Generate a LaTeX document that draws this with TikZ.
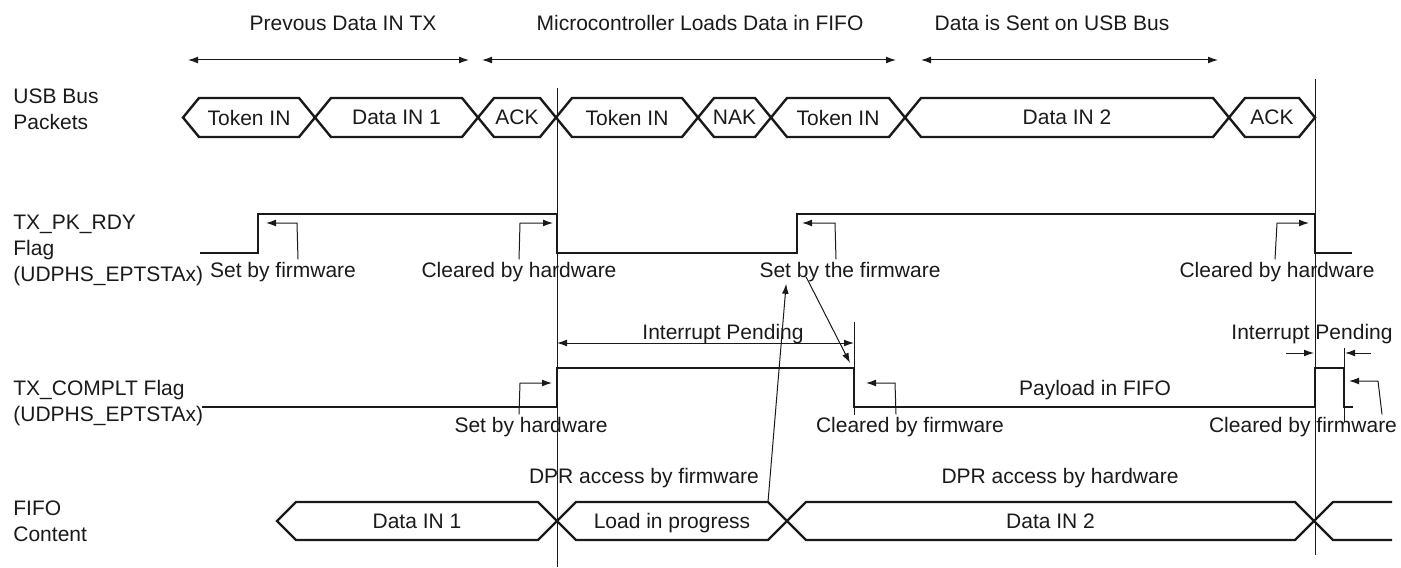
\documentclass[tikz,border=0pt]{standalone}
\usepackage{fontspec}
\setmainfont{Liberation Sans}
\usetikzlibrary{arrows.meta}
\definecolor{Ink}{HTML}{1A1A1A}
\tikzset{
  sig/.style={line width=1.3pt,draw=Ink,line join=miter},
  bus/.style={line width=1.2pt,draw=Ink,line join=miter},
  guide/.style={line width=0.5pt,draw=Ink},
  arr/.style={-{Latex[length=5pt,width=3.4pt]},line width=0.5pt,draw=Ink},
  dbl/.style={{Latex[length=5pt,width=3.4pt]}-{Latex[length=5pt,width=3.4pt]},line width=0.5pt,draw=Ink},
  txt/.style={font=\fontsize{10.5}{13}\selectfont,text=Ink,inner sep=1pt},
  rowlbl/.style={txt,align=left,anchor=north west,inner sep=0pt}
}
\begin{document}
\begin{tikzpicture}[x=0.5pt,y=-0.5pt]
  \useasboundingbox (0,0) rectangle (1401,567);
  \node[txt,anchor=base] (ph1) at (343,31) {Prevous Data IN TX};
  \node[txt,anchor=base] (ph2) at (700,31) {Microcontroller Loads Data in FIFO};
  \node[txt,anchor=base] (ph3) at (1052,31) {Data is Sent on USB Bus};
  \coordinate (a1) at (188,60); \coordinate (b1) at (469,60);
  \coordinate (a2) at (482,60); \coordinate (b2) at (896,60);
  \coordinate (a3) at (921,60); \coordinate (b3) at (1218,60);
  \draw[dbl] (a1) -- (b1);
  \draw[dbl] (a2) -- (b2);
  \draw[dbl] (a3) -- (b3);

  \node[rowlbl] (usb) at (13,88) {USB Bus\\Packets};
  \node[rowlbl] (pkrdy) at (13,215) {TX\_PK\_RDY\\Flag\\(UDPHS\_EPTSTAx)};
  \node[rowlbl] (complt) at (13,380) {TX\_COMPLT Flag\\(UDPHS\_EPTSTAx)};
  \node[rowlbl] (fifo) at (13,500) {FIFO\\Content};

  \draw[guide] (557,88) -- (557,567);
  \draw[guide] (1315,79) -- (1315,555);
  \draw[guide] (854,322) -- (854,415);
  \draw[guide] (1344,348) -- (1344,422);

  \foreach \xa/\xb/\t [count=\i] in {183/315/Token IN,315/478/Data IN 1,478/556/ACK,556/698/Token IN,698/771/NAK,771/905/Token IN,905/1229/Data IN 2,1229/1315/ACK}{
    \draw[bus] (\xa,117.5) -- (\xa+16,98) -- (\xb-16,98) -- (\xb,117.5) -- (\xb-16,137) -- (\xa+16,137) -- cycle;
    \node[txt] (pk\i) at ({(\xa+\xb)/2},117.5) {\t};
  }
  \foreach \xa/\xb/\t [count=\i] in {277/557/Data IN 1,557/787/Load in progress,787/1314/Data IN 2}{
    \draw[bus] (\xa,521) -- (\xa+19,502) -- (\xb-19,502) -- (\xb,521) -- (\xb-19,540) -- (\xa+19,540) -- cycle;
    \node[txt,anchor=base] (ff\i) at ({(\xa+\xb)/2},528) {\t};
  }
  \draw[bus] (1314,521) -- (1333,502) -- (1392,502) (1314,521) -- (1333,540) -- (1392,540);

  \draw[sig] (200,253) -- (258,253) -- (258,214) -- (557,214) -- (557,253) -- (797,253) -- (797,214) -- (1315,214) -- (1315,253) -- (1352,253);
  \draw[sig] (202,407) -- (557,407) -- (557,368) -- (854,368) -- (854,407) -- (1315,407) -- (1315,368) -- (1344,368) -- (1344,407) -- (1353,407);

  \node[txt,anchor=base] (sbf) at (283,277) {Set by firmware};
  \draw[arr] ([xshift=7.5pt]sbf.north) -- (297,223) -- (266,223);
  \node[txt,anchor=base] (cbh1) at (519,277) {Cleared by hardware};
  \draw[arr] (cbh1.north) -- (520,223) -- (553,223);
  \node[txt,anchor=base] (sbtf) at (850,277) {Set by the firmware};
  \draw[arr] ([xshift=-7pt]sbtf.north) -- (835,223) -- (802,223);
  \node[txt,anchor=base] (cbh2) at (1277,277) {Cleared by hardware};
  \draw[arr] ([xshift=-1pt]cbh2.north) -- (1277,223) -- (1309,223);

  \node[txt,anchor=base] (ip1) at (723,339) {Interrupt Pending};
  \draw[dbl] (557,343) -- (854,343);
  \node[txt,anchor=base] (ip2) at (1312,339) {Interrupt Pending};
  \draw[arr] (1286,353) -- (1314,353);
  \draw[arr] (1371,353) -- (1345,353);
  \node[txt,anchor=base] (pay) at (1095,395) {Payload in FIFO};

  \node[txt,anchor=base] (sbh) at (531,432) {Set by hardware};
  \draw[arr] ([xshift=-6pt]sbh.north) -- (520,383) -- (552,383);
  \node[txt,anchor=base] (cbf1) at (910,432) {Cleared by firmware};
  \draw[arr] ([xshift=-7pt]cbf1.north) -- (895,383) -- (866,383);
  \node[txt,anchor=base] (cbf2) at (1303,432) {Cleared by firmware};
  \draw[arr] ([xshift=39.5pt]cbf2.north) -- (1378,381) -- (1349,381);

  \node[txt,anchor=base] (dprf) at (644,483) {DPR access by firmware};
  \node[txt,anchor=base] (dprh) at (1060,483) {DPR access by hardware};
  \draw[arr] (768,502) -- ([xshift=14.5pt]sbtf.south west);
  \draw[arr] ([xshift=24.5pt]sbtf.base west) -- (850,363);
\end{tikzpicture}
\end{document}
